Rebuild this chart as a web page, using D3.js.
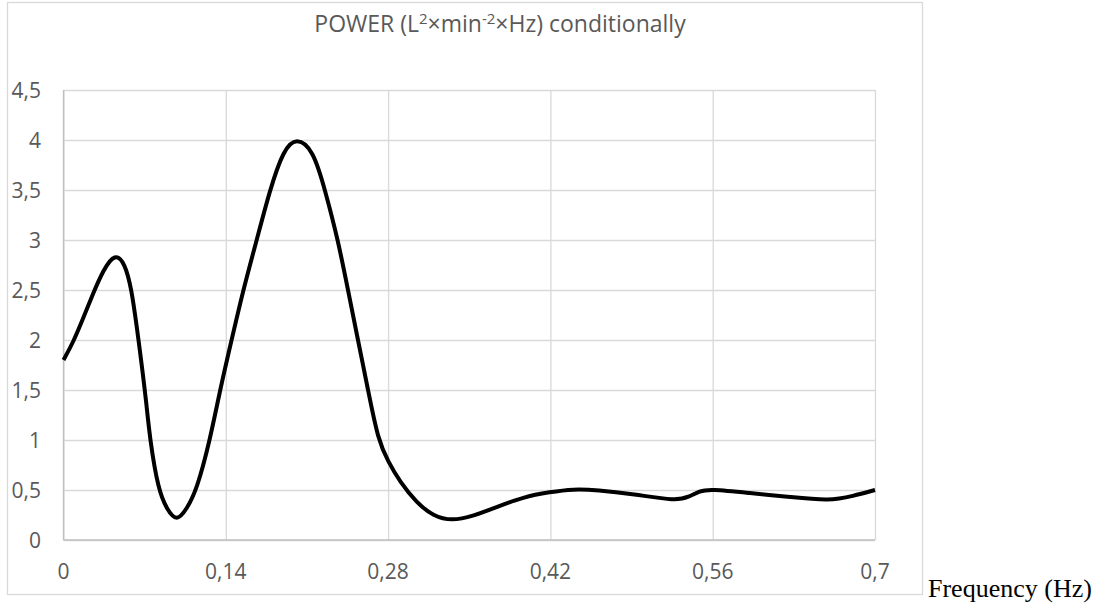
<!DOCTYPE html>
<html>
<head>
<meta charset="utf-8">
<script src="https://cdn.jsdelivr.net/npm/d3@7"></script>
<style>
  body { margin: 0; background: #fff; }
  svg { display: block; }
</style>
</head>
<body>
<div id="chart"></div>
<script>
// values
let freq = [0, 0.0085, 0.0171, 0.0257, 0.0343, 0.0444, 0.053, 0.0588, 0.063, 0.0675,
    0.0712, 0.0746, 0.0818, 0.089, 0.0976, 0.1063, 0.1149, 0.1264, 0.135, 0.145,
    0.155, 0.1667, 0.178, 0.1896, 0.201, 0.2155, 0.2256, 0.2368, 0.2454, 0.254,
    0.2627, 0.2713, 0.2802, 0.2903, 0.3047, 0.319, 0.3349, 0.3535, 0.3737, 0.3966,
    0.4196, 0.4398, 0.46, 0.4915, 0.529, 0.539, 0.5489, 0.5577, 0.592, 0.627,
    0.661, 0.681, 0.7];
let power = [1.8, 1.98, 2.22, 2.47, 2.7, 2.87, 2.77, 2.5, 2.15, 1.75,
    1.4, 1.0, 0.5, 0.31, 0.18, 0.31, 0.5, 1.0, 1.5, 2.0,
    2.5, 3.0, 3.5, 3.9, 4.03, 3.9, 3.5, 3.0, 2.5, 2.0,
    1.5, 1.0, 0.78, 0.58, 0.37, 0.24, 0.19, 0.24, 0.33, 0.43,
    0.48, 0.51, 0.5, 0.46, 0.39, 0.43, 0.49, 0.51, 0.47, 0.43,
    0.39, 0.44, 0.5];
let x_ticks = [0, 0.14, 0.28, 0.42, 0.56, 0.7];
let y_ticks = [0, 0.5, 1, 1.5, 2, 2.5, 3, 3.5, 4, 4.5];

let width = 1098, height = 607;
let margin = ({top: 90, right: 223, bottom: 67, left: 63.5});

let loc = d3.formatLocale({decimal: ",", thousands: " ", grouping: [3], currency: ["", ""]});
let fmt = loc.format("~g");

let svg = d3.select("#chart").append("svg")
    .attr("width", width)
    .attr("height", height);

// chart frame
svg.append("rect")
    .attr("x", 7.5).attr("y", 2.5)
    .attr("width", 915).attr("height", 592)
    .attr("fill", "none")
    .attr("stroke", "#d9d9d9")
    .attr("stroke-width", 1.3);

let x = d3.scaleLinear()
    .domain([0, 0.7])
    .range([margin.left, width - margin.right]);
let y = d3.scaleLinear()
    .domain([0, 4.5])
    .range([height - margin.bottom, margin.top]);

// grid
svg.append("g")
    .attr("transform", `translate(${margin.left},0)`)
    .call(d3.axisLeft(y).tickValues(y_ticks).tickSize(-(width - margin.right - margin.left)).tickFormat(""))
    .call(g => g.select(".domain").remove())
    .call(g => g.selectAll("line").attr("stroke", "#d9d9d9").attr("stroke-width", 1.3));
svg.append("g")
    .attr("transform", `translate(0,${height - margin.bottom})`)
    .call(d3.axisBottom(x).tickValues(x_ticks).tickSize(-(height - margin.bottom - margin.top)).tickFormat(""))
    .call(g => g.select(".domain").remove())
    .call(g => g.selectAll("line").attr("stroke", "#d9d9d9").attr("stroke-width", 1.3));

// axis lines
svg.append("line")
    .attr("x1", x(0)).attr("x2", x(0.7))
    .attr("y1", y(0)).attr("y2", y(0))
    .attr("stroke", "#bfbfbf").attr("stroke-width", 1.3);
svg.append("line")
    .attr("x1", x(0)).attr("x2", x(0))
    .attr("y1", y(0)).attr("y2", y(4.5))
    .attr("stroke", "#bfbfbf").attr("stroke-width", 1.3);

// tick labels
svg.append("g").selectAll("text")
    .data(y_ticks)
    .join("text")
    .attr("x", 41)
    .attr("y", d => y(d))
    .attr("dy", "0.36em")
    .attr("text-anchor", "end")
    .attr("font-family", "'Open Sans', sans-serif")
    .attr("font-size", 21)
    .attr("fill", "#595959")
    .text(d => fmt(d));
svg.append("g").selectAll("text")
    .data(x_ticks)
    .join("text")
    .attr("x", d => x(d))
    .attr("y", 579)
    .attr("text-anchor", "middle")
    .attr("font-family", "'Open Sans', sans-serif")
    .attr("font-size", 21)
    .attr("fill", "#595959")
    .text(d => fmt(d));

// title
let title = svg.append("text")
    .attr("x", 500)
    .attr("y", 32)
    .attr("text-anchor", "middle")
    .attr("font-family", "'Open Sans', sans-serif")
    .attr("font-size", 23)
    .attr("fill", "#595959");
title.append("tspan").text("POWER (L");
title.append("tspan").attr("font-size", 15).attr("dy", -8).text("2");
title.append("tspan").attr("dy", 8).text("×min");
title.append("tspan").attr("font-size", 15).attr("dy", -8).text("-2");
title.append("tspan").attr("dy", 8).text("×Hz) conditionally");

// x axis name outside the frame
svg.append("text")
    .attr("x", 928)
    .attr("y", 597)
    .attr("font-family", "'Liberation Serif', 'Times New Roman', serif")
    .attr("font-size", 26)
    .attr("fill", "#000")
    .text("Frequency (Hz)");

let pts = freq.map((f, i) => ({f: f, v: power[i]}));
// smooth line like the spreadsheet's "smoothed line" option
let line = d3.line()
    .x(d => x(d.f))
    .y(d => y(d.v))
    .curve(d3.curveBasis);

svg.append("path")
    .datum(pts)
    .attr("fill", "none")
    .attr("stroke", "#000")
    .attr("stroke-width", 4)
    .attr("stroke-linejoin", "round")
    .attr("d", line);
</script>
</body>
</html>
